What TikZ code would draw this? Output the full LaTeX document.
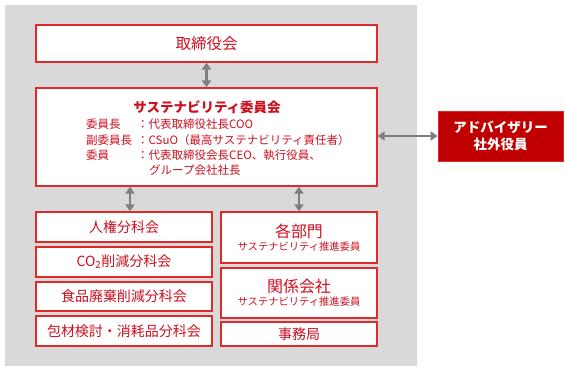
\documentclass[tikz,border=0pt]{standalone}
\usepackage{fontspec}
\setmainfont{Noto Sans CJK JP}
\usetikzlibrary{arrows.meta}
\definecolor{bgray}{HTML}{D9D9D9}
\definecolor{bred}{HTML}{E02A2A}
\definecolor{tred}{HTML}{CC1020}
\definecolor{afill}{HTML}{C00000}
\definecolor{agray}{HTML}{7F7F7F}
\begin{document}
\begin{tikzpicture}[x=1pt,y=-1pt,
  box/.style={draw=bred, line width=1.3pt, fill=white, text=tred, inner sep=0pt, align=center},
  conn/.style={draw=agray, line width=2.6pt, {Triangle[length=7pt,width=9pt]}-{Triangle[length=7pt,width=9pt]}},
  txt/.style={text=tred, inner sep=0pt, anchor=west, font=\fontsize{11.5}{13}\selectfont},
]
\useasboundingbox (0,0) rectangle (566,371);
\fill[bgray] (5,5) rectangle (417,366);
% boxes
\node[box, minimum width=341pt, minimum height=37pt, font=\fontsize{15.5}{18}\selectfont] (board) at (206.5,43.5) {取締役会};
\node[box, minimum width=341pt, minimum height=98pt] (comm) at (206.5,137) {};
\node[text=tred, inner sep=0pt, font=\bfseries\fontsize{13.5}{16}\selectfont] (ctitle) at (207,107) {サステナビリティ委員会};
\node[txt] (l1) at (86,124) {委員長};
\node[txt] (l2) at (86,140) {副委員長};
\node[txt] (l3) at (86,155) {委員};
\node[txt] (v1) at (137,124) {：代表取締役社長COO};
\node[txt] (v2) at (137,140) {：CSuO（最高サステナビリティ責任者）};
\node[txt] (v3) at (137,155) {：代表取締役会長CEO、執行役員、};
\node[txt] (v4) at (149,170) {グループ会社社長};
% left boxes
\tikzset{lbox/.style={box, minimum width=176pt, font=\fontsize{14}{16}\selectfont}}
\node[lbox, minimum height=30pt] (b1) at (124,227) {人権分科会};
\node[lbox, minimum height=30pt] (b2) at (124,262) {CO\textsubscript{2}削減分科会};
\node[lbox, minimum height=29pt] (b3) at (124,296.5) {食品廃棄削減分科会};
\node[lbox, minimum height=30pt] (b4) at (124,331) {包材検討・消耗品分科会};
% right boxes
\tikzset{rbox/.style={box, minimum width=156pt}}
\node[rbox, minimum height=51pt] (r1) at (299,237.5) {{\fontsize{16}{17}\selectfont 各部門}\\[1pt]{\fontsize{10.3}{12}\selectfont サステナビリティ推進委員}};
\node[rbox, minimum height=50pt] (r2) at (299,293) {{\fontsize{16}{17}\selectfont 関係会社}\\[1pt]{\fontsize{10.3}{12}\selectfont サステナビリティ推進委員}};
\node[rbox, minimum height=24pt, font=\fontsize{14}{16}\selectfont] (r3) at (299,334) {事務局};
% advisory
\node[draw=bred, line width=0.8pt, fill=afill, text=white, inner sep=0pt, align=center,
  minimum width=125pt, minimum height=50pt, font=\bfseries\fontsize{13.5}{17}\selectfont] (adv) at (500.5,136) {アドバイザリー\\社外役員};
% connectors
\coordinate (lx) at (130,0);
\draw[conn] (board.south) -- (comm.north);
\draw[conn] (comm.south -| lx) -- (b1.north -| lx);
\draw[conn] (comm.south -| r1.north) -- (r1.north);
\draw[conn] (comm.east |- adv.west) -- (adv.west);
\end{tikzpicture}
\end{document}
